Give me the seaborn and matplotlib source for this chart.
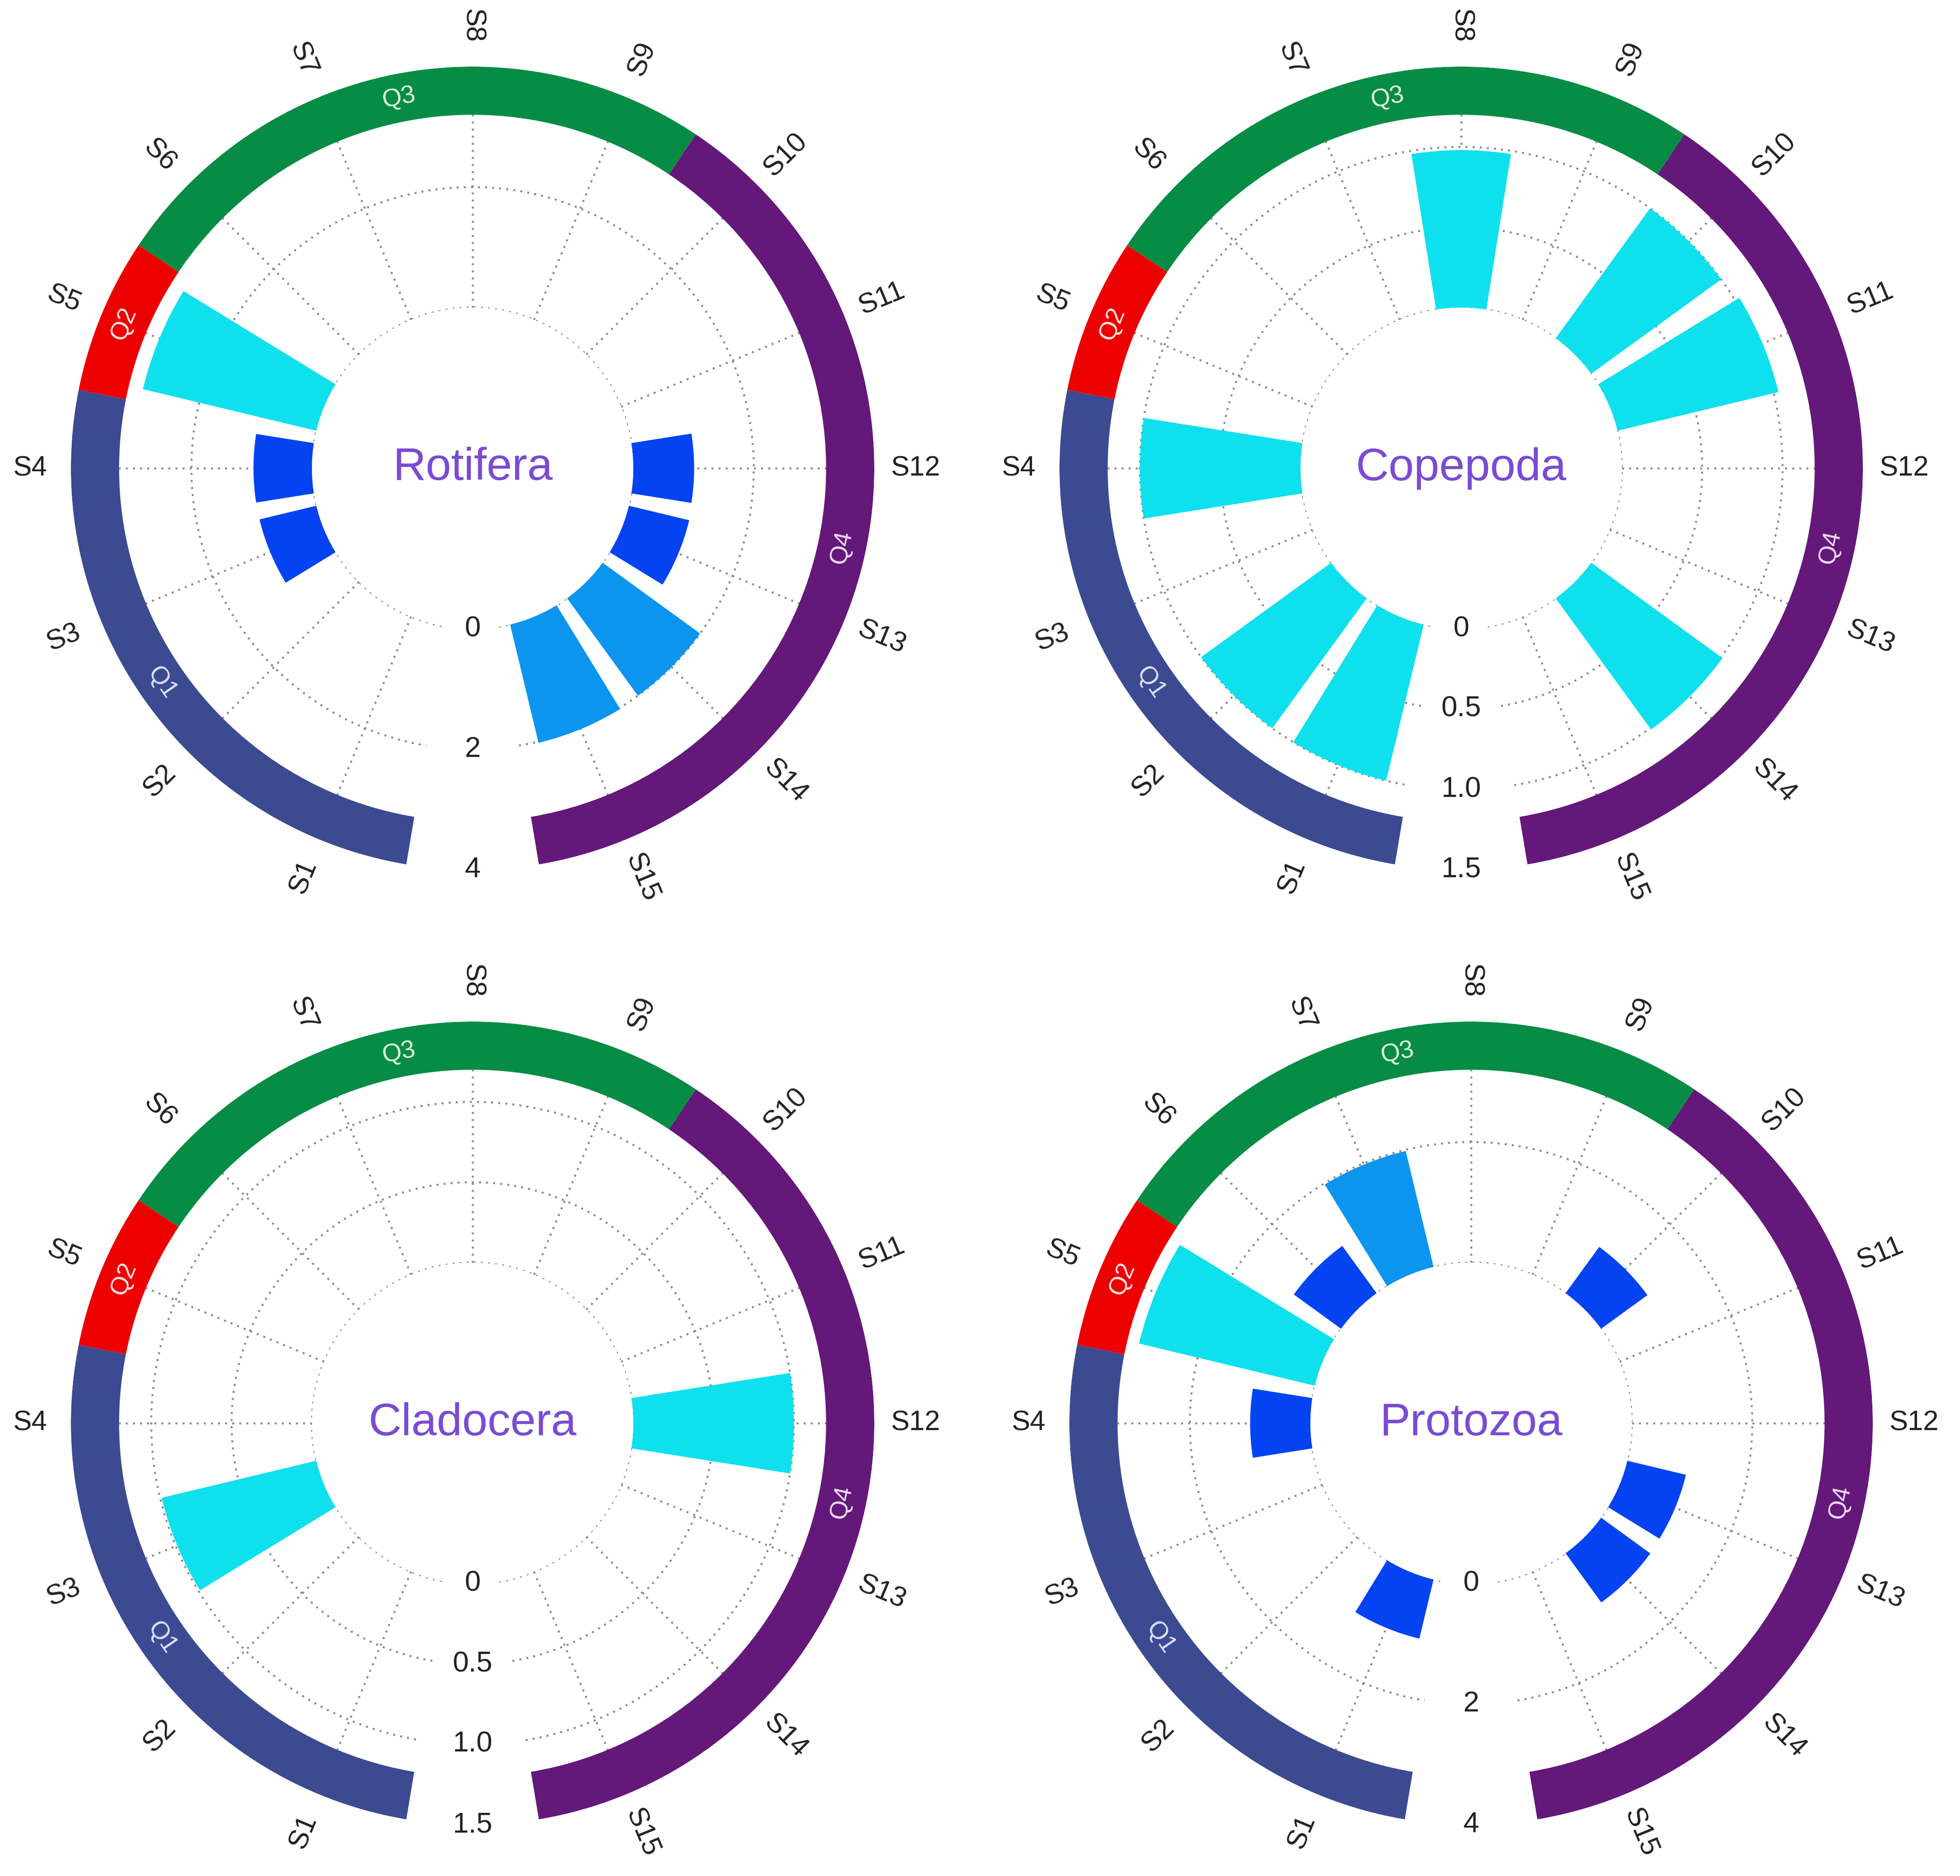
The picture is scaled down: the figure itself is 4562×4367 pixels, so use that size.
import numpy as np
import pandas as pd
import seaborn as sns
import matplotlib.pyplot as plt

# ---- data ----
stations = ['S1', 'S2', 'S3', 'S4', 'S5', 'S6', 'S7', 'S8',
            'S9', 'S10', 'S11', 'S12', 'S13', 'S14', 'S15']
station_quarter = ['Q1', 'Q1', 'Q1', 'Q1', 'Q2', 'Q3', 'Q3', 'Q3',
                   'Q3', 'Q4', 'Q4', 'Q4', 'Q4', 'Q4', 'Q4']
quarters = ['Q1', 'Q2', 'Q3', 'Q4']

rotifera = [0, 0, 0.97, 0.97, 2.96, 0, 0, 0, 0, 0, 0, 1.01, 1.03, 2.00, 2.02]
copepoda = [1.00, 1.00, 0, 1.00, 0, 0, 0, 0.98, 0, 1.00, 1.03, 0, 0, 1.01, 0]
cladocera = [0, 0, 0.99, 0, 0, 0, 0, 0, 0, 0, 0, 1.00, 0, 0, 0]
protozoa = [1.01, 0, 0, 1.00, 3.00, 0.97, 1.98, 0, 0, 0.95, 0, 0, 1.00, 1.01, 0]

ticks_big = [0, 2, 4]
ticks_big_labels = ['0', '2', '4']
ticks_small = [0, 0.5, 1.0, 1.5]
ticks_small_labels = ['0', '0.5', '1.0', '1.5']

# ---- styles ----
quarter_colors = {'Q1': '#3C4A91', 'Q2': '#EC0000', 'Q3': '#078C45', 'Q4': '#63187A'}
quarter_text = {'Q1': '#DCE0F8', 'Q2': '#FFE4E4', 'Q3': '#DDF6DD', 'Q4': '#F2DDF6'}
bar_palette = {'low': '#0443F2', 'mid': '#0B95EF', 'high': '#0EE0EE'}
grid_kw = dict(color='#8a8a8a', lw=1.1, ls=(0, (1, 2.6)), zorder=1)

sns.set_theme(style='white')
plt.rcParams['font.family'] = ['Liberation Sans', 'DejaVu Sans']

W, H, DPI = 4562, 4367, 300
fig = plt.figure(figsize=(W / DPI, H / DPI), dpi=DPI)
R = 935  # outer radius in pixels

panels = [
    ('Rotifera', rotifera, ticks_big, ticks_big_labels, (1100, 1090)),
    ('Copepoda', copepoda, ticks_small, ticks_small_labels, (3401, 1090)),
    ('Cladocera', cladocera, ticks_small, ticks_small_labels, (1100, 3313)),
    ('Protozoa', protozoa, ticks_big, ticks_big_labels, (3424, 3313)),
]

st_deg = 270 - 22.5 * np.arange(1, len(stations) + 1)
theta = np.deg2rad(st_deg)
gap = 9.5  # half-width of the empty wedge at the bottom, degrees


def text_rot(a):
    a = (a + 180) % 360 - 180
    return a if -90 < a < 90 else a - 180 if a > 0 else a + 180


for name, values, ticks, tick_labels, (cx, cy) in panels:
    ax = fig.add_axes([(cx - R) / W, 1 - (cy + R) / H, 2 * R / W, 2 * R / H],
                      projection='polar')
    vmax = ticks[-1]

    # spokes and rings of the grid
    for th in theta:
        ax.plot([th, th], [0, 0.8 * vmax], **grid_kw)
    arc = np.deg2rad(np.linspace(270 + gap, 630 - gap, 500))
    for t in ticks[:-1]:
        ax.plot(arc, np.full_like(arc, t), **grid_kw)

    # bars
    vals = np.array(values, dtype=float)
    df = pd.DataFrame({
        'theta': theta,
        'value': vals,
        'level': pd.cut(vals / vmax, [-1, 0.35, 0.55, 2], labels=['low', 'mid', 'high']),
    })
    sns.barplot(data=df, x='theta', y='value', hue='level',
                hue_order=['low', 'mid', 'high'], palette=bar_palette,
                native_scale=True, dodge=False, errorbar=None, legend=False,
                saturation=1, linewidth=0, zorder=3, ax=ax)

    # quarter ring
    for q in quarters:
        idx = [i for i, s in enumerate(station_quarter) if s == q]
        hi = st_deg[idx[0]] + 11.25
        lo = st_deg[idx[-1]] - 11.25
        if idx[0] == 0:
            hi = 270 - gap
        if idx[-1] == len(stations) - 1:
            lo = -90 + gap
        ax.bar(np.deg2rad(lo), 0.2 * vmax, width=np.deg2rad(hi - lo),
               bottom=0.8 * vmax, align='edge', color=quarter_colors[q],
               linewidth=0, zorder=4)
        mid = (hi + lo) / 2
        ax.text(np.deg2rad(mid), 0.9 * vmax, q, rotation=text_rot(mid - 90),
                rotation_mode='anchor', ha='center', va='center',
                fontsize=14, color=quarter_text[q], zorder=5)

    # station labels
    for s, a in zip(stations, st_deg):
        ax.text(np.deg2rad(a), 1.17 * vmax, s, rotation=text_rot(a),
                rotation_mode='anchor', ha='center', va='center',
                fontsize=15.5, color='#222222')

    # radial tick labels in the gap
    for t, lab in zip(ticks, tick_labels):
        ax.text(np.deg2rad(270), t, lab, ha='center', va='center',
                fontsize=16, color='#222222')

    ax.text(0.5, 0.5, name, transform=ax.transAxes, ha='center', va='center',
            fontsize=25.5, color='#7A4BD3')

    ax.set_ylim(0, vmax)
    ax.set_rorigin(-vmax * 2 / 3)
    ax.set_xlabel('')
    ax.set_ylabel('')
    ax.axis('off')

fig.savefig('out.png', dpi=DPI, facecolor='white')
